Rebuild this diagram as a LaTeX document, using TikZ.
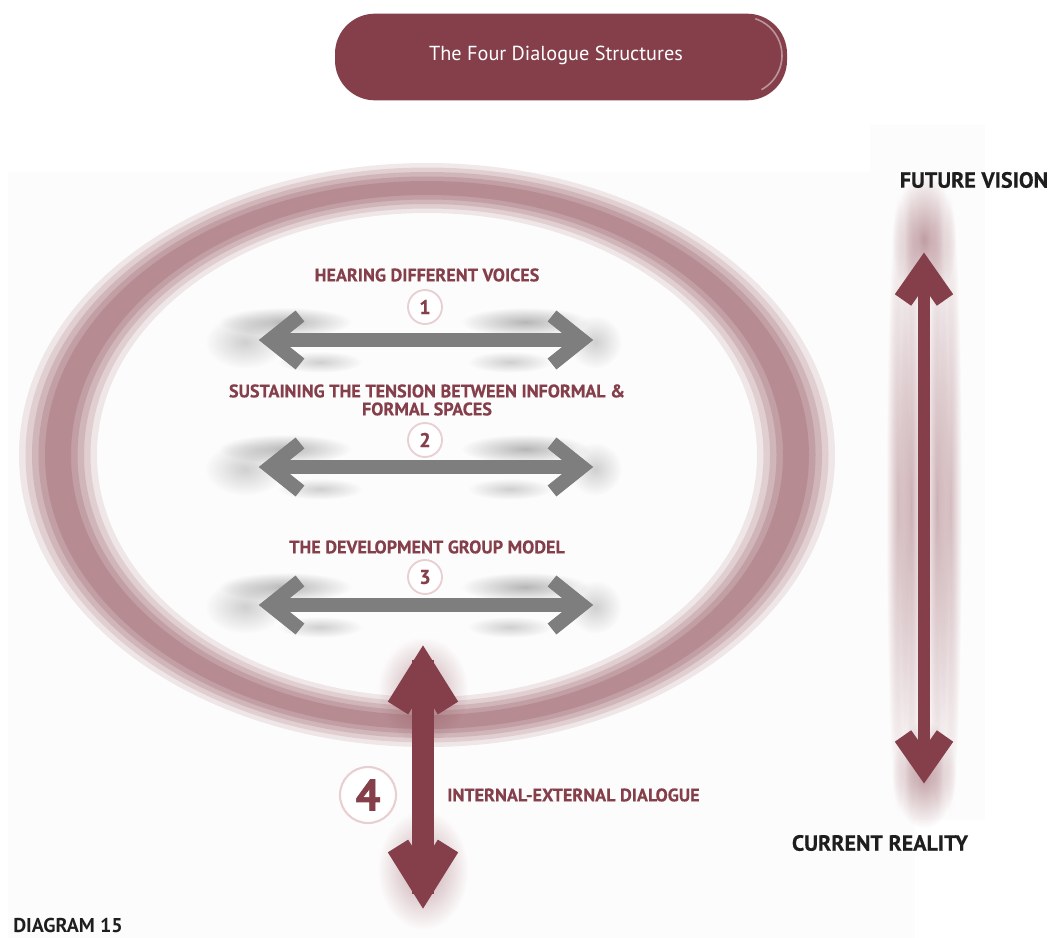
\documentclass[tikz,border=0pt]{standalone}
\usepackage{fontspec}
\setmainfont{PT Sans}
\newfontfamily\labfont[FakeBold=0.4]{PT Sans Bold}
\newfontfamily\heavyfont[FakeBold=1.5]{PT Sans Bold}
\newfontfamily\titfont{PT Sans}
\usetikzlibrary{calc,fadings}
\tikzfading[name=softblob, inner color=transparent!0, outer color=transparent!100]
\definecolor{maroon}{HTML}{843F4A}
\definecolor{ringc}{HTML}{8C4851}
\definecolor{garrow}{HTML}{7E7E7E}
\definecolor{circl}{HTML}{E8D0D2}
\definecolor{blk}{HTML}{1E1E1E}
\definecolor{paper}{HTML}{FDFCFC}
\tikzset{
  lab/.style={text=maroon, font=\labfont\fontsize{13.6}{15}\selectfont, inner sep=0pt, align=center},
  blklab/.style={text=blk, font=\labfont\fontsize{16.5}{18}\selectfont, inner sep=0pt},
  numcirc/.style={circle, fill=white, draw=circl, line width=1.4pt, minimum size=25.5pt, inner sep=0pt, text=maroon, font=\labfont\fontsize{15}{15}\selectfont},
  garrowline/.style={draw=garrow, line width=10.5pt, miter limit=10},
  ghost/.style={fill=garrow, path fading=softblob},
  mglow/.style={fill=maroon, path fading=softblob},
  mshaft/.style={draw=maroon, line width=16.5pt},
  mhead/.style={draw=maroon, line width=18pt, miter limit=10},
  rshaft/.style={draw=maroon, line width=9pt},
  rhead/.style={draw=maroon, line width=15pt, miter limit=10},
}
\begin{document}
\begin{tikzpicture}[x=0.75pt,y=-0.75pt]
\useasboundingbox (0,0) rectangle (1056,938);
\fill[white] (0,0) rectangle (1056,938);
\fill[paper] (8,172) rectangle (915,938);
\fill[paper] (870,125) rectangle (985,820);

% ---- title ----
\node[fill=maroon, rounded corners=30pt, minimum width=339pt, minimum height=65pt, inner sep=0pt] (titlebox) at (561,57) {};
\draw[white, opacity=0.45, line width=1.2pt] ([xshift=-24pt,yshift=-4pt]titlebox.north east) arc[start angle=72, end angle=-62, radius=29pt];
\node[text=white, font=\titfont\fontsize{15.2}{17}\selectfont, inner sep=0pt] (titletext) at (556,55) {The Four Dialogue Structures};

% ---- ring (blurred band, thicker at the sides) ----
\coordinate (ringcenter) at (427,455);
\foreach \k/\o in {0/0.12,1/0.15,2/0.18,3/0.2,4/0.22}{
  \pgfmathsetmacro\orx{(408-6.5*\k)*0.75}
  \pgfmathsetmacro\ory{(292-4.5*\k)*0.75}
  \pgfmathsetmacro\irx{(330+6.5*\k)*0.75}
  \pgfmathsetmacro\iry{(242+4.5*\k)*0.75}
  \fill[ringc, opacity=\o, even odd rule] (ringcenter) ellipse [x radius=\orx pt, y radius=\ory pt]
      (ringcenter) ellipse [x radius=\irx pt, y radius=\iry pt];
}

% ---- gray arrow ghosts ----
\foreach \yy in {340,467,605}{
  \fill[ghost, opacity=0.55] (285,\yy-18) ellipse [x radius=50pt, y radius=11pt];
  \fill[ghost, opacity=0.55] (525,\yy-18) ellipse [x radius=48pt, y radius=11pt];
  \fill[ghost, opacity=0.35] (320,\yy+22) ellipse [x radius=32pt, y radius=8pt];
  \fill[ghost, opacity=0.35] (510,\yy+22) ellipse [x radius=32pt, y radius=8pt];
  \fill[ghost, opacity=0.35] (245,\yy+2) ellipse [x radius=30pt, y radius=20pt];
  \fill[ghost, opacity=0.35] (595,\yy+2) ellipse [x radius=20pt, y radius=20pt];
}

% ---- gray double arrows ----
\foreach \n/\yy in {1/340,2/467,3/605}{
  \coordinate (g\n l) at (270,\yy);
  \coordinate (g\n r) at (582,\yy);
  \draw[garrowline] (g\n l) -- (g\n r);
  \draw[garrowline] ($(g\n l)+(30,-24)$) -- (g\n l) -- ($(g\n l)+(30,24)$);
  \draw[garrowline] ($(g\n r)+(-30,-24)$) -- (g\n r) -- ($(g\n r)+(-30,24)$);
}

% ---- labels and numbers ----
\node[lab] (l1) at (427,275) {HEARING DIFFERENT VOICES};
\node[numcirc] (n1) at (425,307) {1};
\node[lab, font=\labfont\fontsize{13.6}{13.5}\selectfont] (l2) at (427,400) {SUSTAINING THE TENSION BETWEEN INFORMAL \&\\FORMAL SPACES};
\node[numcirc] (n2) at (425,440) {2};
\node[lab] (l3) at (427,547) {THE DEVELOPMENT GROUP MODEL};
\node[numcirc] (n3) at (425,577) {3};

% ---- arrow 4 (internal-external) ----
\coordinate (v4top) at (423,668);
\coordinate (v4bot) at (423,886);
\fill[mglow, opacity=0.45] (423,690) ellipse [x radius=34pt, y radius=40pt];
\fill[mglow, opacity=0.45] (423,870) ellipse [x radius=34pt, y radius=45pt];
\draw[mshaft] ($(v4top)+(0,-8)$) -- ($(v4bot)+(0,8)$);
\draw[mhead] ($(v4top)+(-25,40)$) -- (v4top) -- ($(v4top)+(25,40)$);
\draw[mhead] ($(v4bot)+(-25,-40)$) -- (v4bot) -- ($(v4bot)+(25,-40)$);
\node[numcirc, minimum size=42pt, line width=1.6pt, font=\heavyfont\fontsize{33}{33}\selectfont] (n4) at (368,795) {4};
\node[lab, anchor=west] (l4) at (447,795) {INTERNAL-EXTERNAL DIALOGUE};

% ---- right arrow (future / current) ----
\coordinate (rtop) at (924,270);
\coordinate (rbot) at (924,766);
\foreach \dx/\o in {-26/0.35,26/0.35,-13/0.4,13/0.4}{
  \fill[mglow, opacity=\o] (924+\dx,505) ellipse [x radius=9pt, y radius=235pt];
}
\fill[mglow, opacity=0.5] (924,240) ellipse [x radius=24pt, y radius=50pt];
\fill[mglow, opacity=0.5] (924,775) ellipse [x radius=24pt, y radius=40pt];
\draw[rshaft] (rtop) -- (rbot);
\draw[rhead] ($(rtop)+(-21,30)$) -- (rtop) -- ($(rtop)+(21,30)$);
\draw[rhead] ($(rbot)+(-21,-30)$) -- (rbot) -- ($(rbot)+(21,-30)$);
\node[blklab] (fv) at (974,180) {FUTURE VISION};
\node[blklab] (cr) at (880,843) {CURRENT REALITY};

% ---- footer ----
\node[text=blk, font=\fontsize{15}{17}\selectfont\bfseries, anchor=west, inner sep=0pt] (dg) at (13,925) {DIAGRAM 15};
\end{tikzpicture}
\end{document}
